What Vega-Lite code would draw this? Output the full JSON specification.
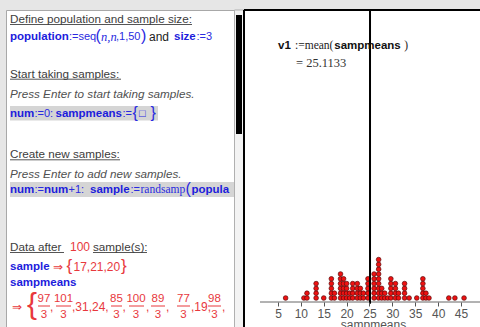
{
  "$schema": "https://vega.github.io/schema/vega-lite/v6.json",
  "background": "#e6e6e6",
  "padding": {"left": 5, "top": 9, "right": 0, "bottom": 0},
  "spacing": 0,
  "bounds": "flush",
  "config": {"view": {"stroke": null}, "font": "Liberation Sans"},
  "datasets": {
    "lines": [
      {"t": "Define population and sample size:", "col": 9, "row": 17.5, "k": "head"},
      {"t": "population", "col": 9, "row": 36, "k": "kw"},
      {"t": ":=seq", "col": 68, "row": 36, "k": "op"},
      {"t": "(", "col": 94.5, "row": 35, "k": "paren"},
      {"t": "n,n", "col": 100, "row": 36, "k": "opi"},
      {"t": ",1,50", "col": 115, "row": 36, "k": "op"},
      {"t": ")", "col": 140, "row": 35, "k": "paren"},
      {"t": "and", "col": 148, "row": 36, "k": "black"},
      {"t": "size", "col": 173, "row": 36, "k": "kw"},
      {"t": ":=3", "col": 195.5, "row": 36, "k": "op"},
      {"t": "Start taking samples:", "col": 9, "row": 72.7, "k": "head"},
      {"t": "Press Enter to start taking samples.", "col": 9, "row": 92.7, "k": "hint"},
      {"t": "num", "col": 9, "row": 112.5, "k": "kw"},
      {"t": ":=0:", "col": 33.5, "row": 112.5, "k": "op"},
      {"t": "sampmeans", "col": 54.5, "row": 112.5, "k": "kw"},
      {"t": ":=", "col": 121.5, "row": 112.5, "k": "op"},
      {"t": "{", "col": 131.5, "row": 111.5, "k": "paren"},
      {"t": "□", "col": 138, "row": 112.5, "k": "op"},
      {"t": "}", "col": 149.5, "row": 111.5, "k": "paren"},
      {"t": "Create new samples:", "col": 9, "row": 153.3, "k": "head"},
      {"t": "Press Enter to add new samples.", "col": 9, "row": 172.7, "k": "hint"},
      {"t": "num", "col": 9, "row": 189, "k": "kw"},
      {"t": ":=", "col": 33.5, "row": 189, "k": "op"},
      {"t": "num", "col": 43, "row": 189, "k": "kw"},
      {"t": "+1:", "col": 67.5, "row": 189, "k": "op"},
      {"t": "sample", "col": 89, "row": 189, "k": "kw"},
      {"t": ":=", "col": 129.5, "row": 189, "k": "op"},
      {"t": "randsamp", "col": 139.5, "row": 189, "k": "serif"},
      {"t": "(", "col": 184.5, "row": 188, "k": "paren"},
      {"t": "popula", "col": 190.5, "row": 189, "k": "kw"},
      {"t": "Data after", "col": 9, "row": 246, "k": "head"},
      {"t": "100", "col": 69, "row": 246, "k": "red"},
      {"t": "sample(s):", "col": 92, "row": 246, "k": "head"},
      {"t": "sample", "col": 9, "row": 266, "k": "kw"},
      {"t": "⇒", "col": 52, "row": 266, "k": "red"},
      {"t": "{", "col": 65.5, "row": 265, "k": "redbig"},
      {"t": "17,21,20", "col": 72.5, "row": 266, "k": "red"},
      {"t": "}", "col": 120, "row": 265, "k": "redbig"},
      {"t": "sampmeans", "col": 9, "row": 281.7, "k": "kw"},
      {"t": "⇒", "col": 11, "row": 305.5, "k": "red"},
      {"t": "{", "col": 26, "row": 303.5, "k": "redhuge"},
      {"t": ",", "col": 49, "row": 306, "k": "red"},
      {"t": ",31,24,", "col": 71, "row": 306, "k": "red"},
      {"t": ",", "col": 121.5, "row": 306, "k": "red"},
      {"t": ",", "col": 145, "row": 306, "k": "red"},
      {"t": ",", "col": 165, "row": 306, "k": "red"},
      {"t": ",19,", "col": 190, "row": 306, "k": "red"},
      {"t": ",", "col": 221, "row": 306, "k": "red"}
    ],
    "fracs": [
      {"t": "97", "col": 43, "row": 297.5}, {"t": "3", "col": 43, "row": 313.5},
      {"t": "101", "col": 62.5, "row": 297.5}, {"t": "3", "col": 62.5, "row": 313.5},
      {"t": "85", "col": 115.5, "row": 297.5}, {"t": "3", "col": 115.5, "row": 313.5},
      {"t": "100", "col": 135, "row": 297.5}, {"t": "3", "col": 135, "row": 313.5},
      {"t": "89", "col": 157, "row": 297.5}, {"t": "3", "col": 157, "row": 313.5},
      {"t": "77", "col": 182.5, "row": 297.5}, {"t": "3", "col": 182.5, "row": 313.5},
      {"t": "98", "col": 213.5, "row": 297.5}, {"t": "3", "col": 213.5, "row": 313.5}
    ],
    "rules": [
      {"col": 9, "col2": 191, "row": 23.5, "k": "ul"},
      {"col": 9, "col2": 120, "row": 78.2, "k": "ul"},
      {"col": 9, "col2": 119, "row": 158.8, "k": "ul"},
      {"col": 9, "col2": 63, "row": 251.5, "k": "ul"},
      {"col": 92, "col2": 146, "row": 251.5, "k": "ul"},
      {"col": 37, "col2": 49, "row": 305, "k": "bar"},
      {"col": 55, "col2": 70, "row": 305, "k": "bar"},
      {"col": 110, "col2": 121, "row": 305, "k": "bar"},
      {"col": 128, "col2": 143, "row": 305, "k": "bar"},
      {"col": 150, "col2": 164, "row": 305, "k": "bar"},
      {"col": 176, "col2": 189, "row": 305, "k": "bar"},
      {"col": 207, "col2": 220, "row": 305, "k": "bar"}
    ],
    "boxes": [
      {"col": 9, "col2": 157, "row": 105, "row2": 119.5, "k": "hl"},
      {"col": 9, "col2": 233, "row": 181, "row2": 196, "k": "hl"},
      {"col": 233.5, "col2": 243, "row": 9, "row2": 328, "k": "track"},
      {"col": 235, "col2": 241, "row": 14, "row2": 133, "k": "thumb"}
    ],
    "dots": [
      {"m": 6.667},
      {"m": 10.667},
      {"m": 11.333}, {"m": 11.333},
      {"m": 13.333}, {"m": 13.333}, {"m": 13.333}, {"m": 13.333},
      {"m": 15},
      {"m": 16.667}, {"m": 16.667}, {"m": 16.667}, {"m": 16.667}, {"m": 16.667},
      {"m": 17.333}, {"m": 17.333},
      {"m": 18.667}, {"m": 18.667}, {"m": 18.667}, {"m": 18.667}, {"m": 18.667}, {"m": 18.667},
      {"m": 19.333}, {"m": 19.333}, {"m": 19.333}, {"m": 19.333}, {"m": 19.333},
      {"m": 20}, {"m": 20}, {"m": 20}, {"m": 20},
      {"m": 20.667}, {"m": 20.667},
      {"m": 21.333}, {"m": 21.333}, {"m": 21.333}, {"m": 21.333},
      {"m": 22.333}, {"m": 22.333}, {"m": 22.333}, {"m": 22.333},
      {"m": 23}, {"m": 23}, {"m": 23},
      {"m": 23.667}, {"m": 23.667},
      {"m": 24.667}, {"m": 24.667}, {"m": 24.667}, {"m": 24.667}, {"m": 24.667},
      {"m": 26}, {"m": 26}, {"m": 26}, {"m": 26}, {"m": 26}, {"m": 26},
      {"m": 27}, {"m": 27}, {"m": 27}, {"m": 27}, {"m": 27}, {"m": 27}, {"m": 27}, {"m": 27}, {"m": 27},
      {"m": 27.667}, {"m": 27.667}, {"m": 27.667},
      {"m": 28.333}, {"m": 28.333},
      {"m": 29},
      {"m": 29.667}, {"m": 29.667}, {"m": 29.667}, {"m": 29.667}, {"m": 29.667},
      {"m": 30.667}, {"m": 30.667}, {"m": 30.667}, {"m": 30.667},
      {"m": 31.333}, {"m": 31.333},
      {"m": 32.667}, {"m": 32.667}, {"m": 32.667}, {"m": 32.667},
      {"m": 33.667},
      {"m": 35.333},
      {"m": 36.667}, {"m": 36.667}, {"m": 36.667}, {"m": 36.667}, {"m": 36.667},
      {"m": 37.333}, {"m": 37.333},
      {"m": 38},
      {"m": 42.333},
      {"m": 43.667},
      {"m": 45.667}
    ]
  },
  "hconcat": [
    {
      "width": 238,
      "height": 318,
      "view": {"fill": "white", "stroke": "#a8a8a8", "strokeWidth": 1},
      "layer": [
        {
          "data": {"name": "boxes"},
          "transform": [{"filter": "datum.k === 'hl'"}],
          "mark": {"type": "rect", "fill": "#d5d5d5"},
          "encoding": {
            "x": {"field": "col", "type": "quantitative", "scale": {"domain": [5, 243], "nice": false, "zero": false}, "axis": null},
            "x2": {"field": "col2"},
            "y": {"field": "row", "type": "quantitative", "scale": {"domain": [9, 327], "reverse": true, "nice": false, "zero": false}, "axis": null},
            "y2": {"field": "row2"}
          }
        },
        {
          "data": {"name": "rules"},
          "transform": [{"filter": "datum.k === 'ul'"}],
          "mark": {"type": "rule", "color": "#555555", "strokeWidth": 1},
          "encoding": {
            "x": {"field": "col", "type": "quantitative", "scale": {"domain": [5, 243], "nice": false, "zero": false}, "axis": null},
            "x2": {"field": "col2"},
            "y": {"field": "row", "type": "quantitative", "scale": {"domain": [9, 327], "reverse": true, "nice": false, "zero": false}, "axis": null}
          }
        },
        {
          "data": {"name": "rules"},
          "transform": [{"filter": "datum.k === 'bar'"}],
          "mark": {"type": "rule", "color": "#e8383d", "strokeWidth": 1},
          "encoding": {
            "x": {"field": "col", "type": "quantitative", "scale": {"domain": [5, 243], "nice": false, "zero": false}, "axis": null},
            "x2": {"field": "col2"},
            "y": {"field": "row", "type": "quantitative", "scale": {"domain": [9, 327], "reverse": true, "nice": false, "zero": false}, "axis": null}
          }
        },
        {
          "data": {"name": "lines"},
          "transform": [{"filter": "datum.k === 'head'"}],
          "mark": {"type": "text", "align": "left", "baseline": "middle", "font": "Liberation Sans", "fontSize": 11.7, "color": "#3c3c3c"},
          "encoding": {
            "x": {"field": "col", "type": "quantitative", "scale": {"domain": [5, 243], "nice": false, "zero": false}, "axis": null},
            "y": {"field": "row", "type": "quantitative", "scale": {"domain": [9, 327], "reverse": true, "nice": false, "zero": false}, "axis": null},
            "text": {"field": "t"}
          }
        },
        {
          "data": {"name": "lines"},
          "transform": [{"filter": "datum.k === 'hint'"}],
          "mark": {"type": "text", "align": "left", "baseline": "middle", "font": "Liberation Sans", "fontSize": 11.7, "fontStyle": "italic", "color": "#505050"},
          "encoding": {
            "x": {"field": "col", "type": "quantitative", "scale": {"domain": [5, 243], "nice": false, "zero": false}, "axis": null},
            "y": {"field": "row", "type": "quantitative", "scale": {"domain": [9, 327], "reverse": true, "nice": false, "zero": false}, "axis": null},
            "text": {"field": "t"}
          }
        },
        {
          "data": {"name": "lines"},
          "transform": [{"filter": "datum.k === 'kw'"}],
          "mark": {"type": "text", "align": "left", "baseline": "middle", "font": "Liberation Sans", "fontSize": 11.5, "fontWeight": "bold", "color": "#1c1cdc"},
          "encoding": {
            "x": {"field": "col", "type": "quantitative", "scale": {"domain": [5, 243], "nice": false, "zero": false}, "axis": null},
            "y": {"field": "row", "type": "quantitative", "scale": {"domain": [9, 327], "reverse": true, "nice": false, "zero": false}, "axis": null},
            "text": {"field": "t"}
          }
        },
        {
          "data": {"name": "lines"},
          "transform": [{"filter": "datum.k === 'op'"}],
          "mark": {"type": "text", "align": "left", "baseline": "middle", "font": "Liberation Sans", "fontSize": 11, "color": "#2a2ae0"},
          "encoding": {
            "x": {"field": "col", "type": "quantitative", "scale": {"domain": [5, 243], "nice": false, "zero": false}, "axis": null},
            "y": {"field": "row", "type": "quantitative", "scale": {"domain": [9, 327], "reverse": true, "nice": false, "zero": false}, "axis": null},
            "text": {"field": "t"}
          }
        },
        {
          "data": {"name": "lines"},
          "transform": [{"filter": "datum.k === 'opi'"}],
          "mark": {"type": "text", "align": "left", "baseline": "middle", "font": "Liberation Serif", "fontSize": 12.5, "fontStyle": "italic", "color": "#2a2ae0"},
          "encoding": {
            "x": {"field": "col", "type": "quantitative", "scale": {"domain": [5, 243], "nice": false, "zero": false}, "axis": null},
            "y": {"field": "row", "type": "quantitative", "scale": {"domain": [9, 327], "reverse": true, "nice": false, "zero": false}, "axis": null},
            "text": {"field": "t"}
          }
        },
        {
          "data": {"name": "lines"},
          "transform": [{"filter": "datum.k === 'serif'"}],
          "mark": {"type": "text", "align": "left", "baseline": "middle", "font": "Liberation Serif", "fontSize": 11.5, "color": "#2a2ae0"},
          "encoding": {
            "x": {"field": "col", "type": "quantitative", "scale": {"domain": [5, 243], "nice": false, "zero": false}, "axis": null},
            "y": {"field": "row", "type": "quantitative", "scale": {"domain": [9, 327], "reverse": true, "nice": false, "zero": false}, "axis": null},
            "text": {"field": "t"}
          }
        },
        {
          "data": {"name": "lines"},
          "transform": [{"filter": "datum.k === 'paren'"}],
          "mark": {"type": "text", "align": "left", "baseline": "middle", "font": "Liberation Sans", "fontSize": 16, "color": "#2a2ae0"},
          "encoding": {
            "x": {"field": "col", "type": "quantitative", "scale": {"domain": [5, 243], "nice": false, "zero": false}, "axis": null},
            "y": {"field": "row", "type": "quantitative", "scale": {"domain": [9, 327], "reverse": true, "nice": false, "zero": false}, "axis": null},
            "text": {"field": "t"}
          }
        },
        {
          "data": {"name": "lines"},
          "transform": [{"filter": "datum.k === 'black'"}],
          "mark": {"type": "text", "align": "left", "baseline": "middle", "font": "Liberation Sans", "fontSize": 12, "color": "#222222"},
          "encoding": {
            "x": {"field": "col", "type": "quantitative", "scale": {"domain": [5, 243], "nice": false, "zero": false}, "axis": null},
            "y": {"field": "row", "type": "quantitative", "scale": {"domain": [9, 327], "reverse": true, "nice": false, "zero": false}, "axis": null},
            "text": {"field": "t"}
          }
        },
        {
          "data": {"name": "lines"},
          "transform": [{"filter": "datum.k === 'red'"}],
          "mark": {"type": "text", "align": "left", "baseline": "middle", "font": "Liberation Sans", "fontSize": 12, "color": "#e8383d"},
          "encoding": {
            "x": {"field": "col", "type": "quantitative", "scale": {"domain": [5, 243], "nice": false, "zero": false}, "axis": null},
            "y": {"field": "row", "type": "quantitative", "scale": {"domain": [9, 327], "reverse": true, "nice": false, "zero": false}, "axis": null},
            "text": {"field": "t"}
          }
        },
        {
          "data": {"name": "lines"},
          "transform": [{"filter": "datum.k === 'redbig'"}],
          "mark": {"type": "text", "align": "left", "baseline": "middle", "font": "Liberation Sans", "fontSize": 17, "color": "#e8383d"},
          "encoding": {
            "x": {"field": "col", "type": "quantitative", "scale": {"domain": [5, 243], "nice": false, "zero": false}, "axis": null},
            "y": {"field": "row", "type": "quantitative", "scale": {"domain": [9, 327], "reverse": true, "nice": false, "zero": false}, "axis": null},
            "text": {"field": "t"}
          }
        },
        {
          "data": {"name": "lines"},
          "transform": [{"filter": "datum.k === 'redhuge'"}],
          "mark": {"type": "text", "align": "left", "baseline": "middle", "font": "Liberation Sans", "fontSize": 30, "color": "#e8383d"},
          "encoding": {
            "x": {"field": "col", "type": "quantitative", "scale": {"domain": [5, 243], "nice": false, "zero": false}, "axis": null},
            "y": {"field": "row", "type": "quantitative", "scale": {"domain": [9, 327], "reverse": true, "nice": false, "zero": false}, "axis": null},
            "text": {"field": "t"}
          }
        },
        {
          "data": {"name": "fracs"},
          "mark": {"type": "text", "align": "center", "baseline": "middle", "font": "Liberation Sans", "fontSize": 11.5, "color": "#e8383d"},
          "encoding": {
            "x": {"field": "col", "type": "quantitative", "scale": {"domain": [5, 243], "nice": false, "zero": false}, "axis": null},
            "y": {"field": "row", "type": "quantitative", "scale": {"domain": [9, 327], "reverse": true, "nice": false, "zero": false}, "axis": null},
            "text": {"field": "t"}
          }
        },
        {
          "data": {"name": "boxes"},
          "transform": [{"filter": "datum.k === 'track'"}],
          "mark": {"type": "rect", "fill": "#f3f3f3", "stroke": "#b0b0b0", "strokeWidth": 1},
          "encoding": {
            "x": {"field": "col", "type": "quantitative", "scale": {"domain": [5, 243], "nice": false, "zero": false}, "axis": null},
            "x2": {"field": "col2"},
            "y": {"field": "row", "type": "quantitative", "scale": {"domain": [9, 327], "reverse": true, "nice": false, "zero": false}, "axis": null},
            "y2": {"field": "row2"}
          }
        },
        {
          "data": {"name": "boxes"},
          "transform": [{"filter": "datum.k === 'thumb'"}],
          "mark": {"type": "rect", "fill": "#000000"},
          "encoding": {
            "x": {"field": "col", "type": "quantitative", "scale": {"domain": [5, 243], "nice": false, "zero": false}, "axis": null},
            "x2": {"field": "col2"},
            "y": {"field": "row", "type": "quantitative", "scale": {"domain": [9, 327], "reverse": true, "nice": false, "zero": false}, "axis": null},
            "y2": {"field": "row2"}
          }
        }
      ]
    },
    {
      "width": 238,
      "height": 292,
      "view": {"fill": "white", "stroke": null},
      "layer": [
        {
          "data": {"values": [{}]},
          "mark": {"type": "rect", "fill": "white"},
          "encoding": {
            "x": {"datum": -2.43, "type": "quantitative", "scale": {"domain": [-2.43, 49.59], "nice": false, "zero": false}, "axis": {"values": [5, 10, 15, 20, 25, 30, 35, 40, 45], "domain": false, "grid": false, "zindex": 1, "tickColor": "#555555", "tickSize": 4, "labelColor": "#555555", "labelFontSize": 12, "labelFont": "Liberation Sans", "labelPadding": 2, "title": "sampmeans", "titleColor": "#555555", "titleFontSize": 12, "titleFont": "Liberation Sans", "titleFontWeight": "normal", "titlePadding": 0.5, "titleX": 129}},
            "x2": {"datum": 49.59},
            "y": {"datum": 0.17, "type": "quantitative", "scale": {"domain": [0.17, 61], "nice": false, "zero": false}, "axis": null},
            "y2": {"datum": -5.3}
          }
        },
        {
          "data": {"values": [{}]},
          "mark": {"type": "rule", "color": "#666666", "strokeWidth": 1},
          "encoding": {
            "x": {"datum": 1.07, "type": "quantitative", "scale": {"domain": [-2.43, 49.59], "nice": false, "zero": false}, "axis": {"values": [5, 10, 15, 20, 25, 30, 35, 40, 45], "domain": false, "grid": false, "zindex": 1, "tickColor": "#555555", "tickSize": 4, "labelColor": "#555555", "labelFontSize": 12, "labelFont": "Liberation Sans", "labelPadding": 2, "title": "sampmeans", "titleColor": "#555555", "titleFontSize": 12, "titleFont": "Liberation Sans", "titleFontWeight": "normal", "titlePadding": 0.5, "titleX": 129}},
            "x2": {"datum": 49.59},
            "y": {"datum": 0.17, "type": "quantitative", "scale": {"domain": [0.17, 61], "nice": false, "zero": false}, "axis": null}
          }
        },
        {
          "data": {"name": "dots"},
          "transform": [{"window": [{"op": "row_number", "as": "level"}], "groupby": ["m"]}],
          "mark": {"type": "circle", "size": 22, "opacity": 1, "color": "#ee1111", "stroke": "#5a0a0a", "strokeWidth": 0.7},
          "encoding": {
            "x": {"field": "m", "type": "quantitative", "scale": {"domain": [-2.43, 49.59], "nice": false, "zero": false}, "axis": {"values": [5, 10, 15, 20, 25, 30, 35, 40, 45], "domain": false, "grid": false, "zindex": 1, "tickColor": "#555555", "tickSize": 4, "labelColor": "#555555", "labelFontSize": 12, "labelFont": "Liberation Sans", "labelPadding": 2, "title": "sampmeans", "titleColor": "#555555", "titleFontSize": 12, "titleFont": "Liberation Sans", "titleFontWeight": "normal", "titlePadding": 0.5, "titleX": 129}},
            "y": {"field": "level", "type": "quantitative", "scale": {"domain": [0.17, 61], "nice": false, "zero": false}, "axis": null}
          }
        },
        {
          "data": {"values": [{}]},
          "mark": {"type": "rule", "color": "black", "strokeWidth": 2},
          "encoding": {
            "x": {"datum": 25.1133, "type": "quantitative", "scale": {"domain": [-2.43, 49.59], "nice": false, "zero": false}, "axis": {"values": [5, 10, 15, 20, 25, 30, 35, 40, 45], "domain": false, "grid": false, "zindex": 1, "tickColor": "#555555", "tickSize": 4, "labelColor": "#555555", "labelFontSize": 12, "labelFont": "Liberation Sans", "labelPadding": 2, "title": "sampmeans", "titleColor": "#555555", "titleFontSize": 12, "titleFont": "Liberation Sans", "titleFontWeight": "normal", "titlePadding": 0.5, "titleX": 129}},
            "y": {"datum": -0.2, "type": "quantitative", "scale": {"domain": [0.17, 61], "nice": false, "zero": false}, "axis": null},
            "y2": {"datum": 61}
          }
        },
        {
          "data": {"values": [{}]},
          "mark": {"type": "rule", "color": "black", "strokeWidth": 2},
          "encoding": {
            "x": {"datum": -2.43, "type": "quantitative", "scale": {"domain": [-2.43, 49.59], "nice": false, "zero": false}, "axis": {"values": [5, 10, 15, 20, 25, 30, 35, 40, 45], "domain": false, "grid": false, "zindex": 1, "tickColor": "#555555", "tickSize": 4, "labelColor": "#555555", "labelFontSize": 12, "labelFont": "Liberation Sans", "labelPadding": 2, "title": "sampmeans", "titleColor": "#555555", "titleFontSize": 12, "titleFont": "Liberation Sans", "titleFontWeight": "normal", "titlePadding": 0.5, "titleX": 129}},
            "y": {"datum": -5.3, "type": "quantitative", "scale": {"domain": [0.17, 61], "nice": false, "zero": false}, "axis": null},
            "y2": {"datum": 61}
          }
        },
        {
          "data": {"values": [{}]},
          "mark": {"type": "rule", "color": "black", "strokeWidth": 2},
          "encoding": {
            "x": {"datum": -2.43, "type": "quantitative", "scale": {"domain": [-2.43, 49.59], "nice": false, "zero": false}, "axis": {"values": [5, 10, 15, 20, 25, 30, 35, 40, 45], "domain": false, "grid": false, "zindex": 1, "tickColor": "#555555", "tickSize": 4, "labelColor": "#555555", "labelFontSize": 12, "labelFont": "Liberation Sans", "labelPadding": 2, "title": "sampmeans", "titleColor": "#555555", "titleFontSize": 12, "titleFont": "Liberation Sans", "titleFontWeight": "normal", "titlePadding": 0.5, "titleX": 129}},
            "x2": {"datum": 49.59},
            "y": {"datum": 61, "type": "quantitative", "scale": {"domain": [0.17, 61], "nice": false, "zero": false}, "axis": null}
          }
        },
        {
          "data": {"values": [{}]},
          "mark": {"type": "text", "align": "left", "baseline": "middle", "font": "Liberation Sans", "fontSize": 11.5, "fontWeight": "bold", "color": "#111111"},
          "encoding": {
            "x": {"datum": 5.0, "type": "quantitative", "scale": {"domain": [-2.43, 49.59], "nice": false, "zero": false}, "axis": {"values": [5, 10, 15, 20, 25, 30, 35, 40, 45], "domain": false, "grid": false, "zindex": 1, "tickColor": "#555555", "tickSize": 4, "labelColor": "#555555", "labelFontSize": 12, "labelFont": "Liberation Sans", "labelPadding": 2, "title": "sampmeans", "titleColor": "#555555", "titleFontSize": 12, "titleFont": "Liberation Sans", "titleFontWeight": "normal", "titlePadding": 0.5, "titleX": 129}},
            "y": {"datum": 53.5, "type": "quantitative", "scale": {"domain": [0.17, 61], "nice": false, "zero": false}, "axis": null},
            "text": {"value": "v1"}
          }
        },
        {
          "data": {"values": [{}]},
          "mark": {"type": "text", "align": "left", "baseline": "middle", "font": "Liberation Serif", "fontSize": 11.5, "color": "#222222"},
          "encoding": {
            "x": {"datum": 8.72, "type": "quantitative", "scale": {"domain": [-2.43, 49.59], "nice": false, "zero": false}, "axis": {"values": [5, 10, 15, 20, 25, 30, 35, 40, 45], "domain": false, "grid": false, "zindex": 1, "tickColor": "#555555", "tickSize": 4, "labelColor": "#555555", "labelFontSize": 12, "labelFont": "Liberation Sans", "labelPadding": 2, "title": "sampmeans", "titleColor": "#555555", "titleFontSize": 12, "titleFont": "Liberation Sans", "titleFontWeight": "normal", "titlePadding": 0.5, "titleX": 129}},
            "y": {"datum": 53.5, "type": "quantitative", "scale": {"domain": [0.17, 61], "nice": false, "zero": false}, "axis": null},
            "text": {"value": ":=mean("}
          }
        },
        {
          "data": {"values": [{}]},
          "mark": {"type": "text", "align": "left", "baseline": "middle", "font": "Liberation Sans", "fontSize": 11.5, "fontWeight": "bold", "color": "#111111"},
          "encoding": {
            "x": {"datum": 17.3, "type": "quantitative", "scale": {"domain": [-2.43, 49.59], "nice": false, "zero": false}, "axis": {"values": [5, 10, 15, 20, 25, 30, 35, 40, 45], "domain": false, "grid": false, "zindex": 1, "tickColor": "#555555", "tickSize": 4, "labelColor": "#555555", "labelFontSize": 12, "labelFont": "Liberation Sans", "labelPadding": 2, "title": "sampmeans", "titleColor": "#555555", "titleFontSize": 12, "titleFont": "Liberation Sans", "titleFontWeight": "normal", "titlePadding": 0.5, "titleX": 129}},
            "y": {"datum": 53.5, "type": "quantitative", "scale": {"domain": [0.17, 61], "nice": false, "zero": false}, "axis": null},
            "text": {"value": "sampmeans"}
          }
        },
        {
          "data": {"values": [{}]},
          "mark": {"type": "text", "align": "left", "baseline": "middle", "font": "Liberation Serif", "fontSize": 11.5, "color": "#222222"},
          "encoding": {
            "x": {"datum": 32.6, "type": "quantitative", "scale": {"domain": [-2.43, 49.59], "nice": false, "zero": false}, "axis": {"values": [5, 10, 15, 20, 25, 30, 35, 40, 45], "domain": false, "grid": false, "zindex": 1, "tickColor": "#555555", "tickSize": 4, "labelColor": "#555555", "labelFontSize": 12, "labelFont": "Liberation Sans", "labelPadding": 2, "title": "sampmeans", "titleColor": "#555555", "titleFontSize": 12, "titleFont": "Liberation Sans", "titleFontWeight": "normal", "titlePadding": 0.5, "titleX": 129}},
            "y": {"datum": 53.5, "type": "quantitative", "scale": {"domain": [0.17, 61], "nice": false, "zero": false}, "axis": null},
            "text": {"value": ")"}
          }
        },
        {
          "data": {"values": [{}]},
          "mark": {"type": "text", "align": "left", "baseline": "middle", "font": "Liberation Serif", "fontSize": 12.5, "color": "#333333"},
          "encoding": {
            "x": {"datum": 8.93, "type": "quantitative", "scale": {"domain": [-2.43, 49.59], "nice": false, "zero": false}, "axis": {"values": [5, 10, 15, 20, 25, 30, 35, 40, 45], "domain": false, "grid": false, "zindex": 1, "tickColor": "#555555", "tickSize": 4, "labelColor": "#555555", "labelFontSize": 12, "labelFont": "Liberation Sans", "labelPadding": 2, "title": "sampmeans", "titleColor": "#555555", "titleFontSize": 12, "titleFont": "Liberation Sans", "titleFontWeight": "normal", "titlePadding": 0.5, "titleX": 129}},
            "y": {"datum": 50.0, "type": "quantitative", "scale": {"domain": [0.17, 61], "nice": false, "zero": false}, "axis": null},
            "text": {"value": "= 25.1133"}
          }
        }
      ]
    }
  ]
}
